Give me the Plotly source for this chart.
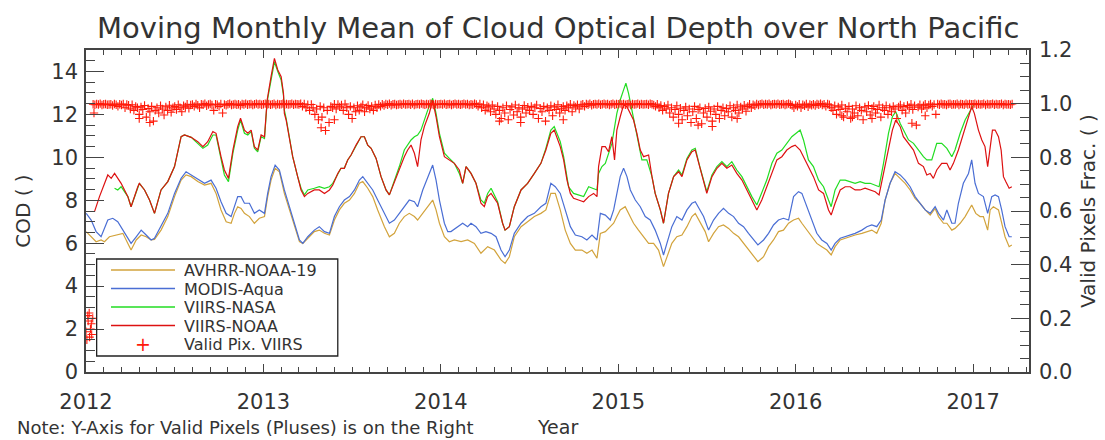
import plotly.graph_objects as go

# ---------------- data (decimal year, COD) ----------------
avhrr_noaa19 = [(2012.001,6.54),(2012.029,6.30),(2012.057,6.07),(2012.085,6.15),(2012.104,6.07),(2012.132,6.30),(2012.179,6.38),(2012.208,6.46),(2012.236,5.99),(2012.254,5.68),(2012.283,6.15),(2012.311,6.38),(2012.339,6.30),(2012.367,6.15),(2012.386,6.18),(2012.423,6.61),(2012.461,7.24),(2012.499,8.17),(2012.536,8.94),(2012.564,9.18),(2012.593,9.10),(2012.630,8.87),(2012.668,8.71),(2012.705,8.79),(2012.733,8.32),(2012.761,7.55),(2012.790,7.00),(2012.818,6.93),(2012.837,7.39),(2012.855,7.70),(2012.874,7.62),(2012.893,7.39),(2012.921,7.24),(2012.949,6.93),(2012.977,7.16),(2013.006,7.24),(2013.024,8.17),(2013.043,8.94),(2013.066,9.49),(2013.090,9.33),(2013.118,8.32),(2013.146,7.55),(2013.175,6.77),(2013.203,6.07),(2013.222,5.99),(2013.250,6.23),(2013.287,6.54),(2013.315,6.61),(2013.344,6.46),(2013.372,6.38),(2013.400,7.08),(2013.428,7.55),(2013.456,7.86),(2013.485,8.01),(2013.513,8.32),(2013.541,8.79),(2013.560,8.87),(2013.588,8.56),(2013.616,8.17),(2013.644,7.55),(2013.682,6.77),(2013.710,6.30),(2013.738,6.46),(2013.766,6.93),(2013.794,7.24),(2013.822,7.39),(2013.851,7.24),(2013.869,7.08),(2013.898,7.39),(2013.926,7.70),(2013.954,8.01),(2013.973,7.55),(2013.992,6.93),(2014.020,6.30),(2014.048,6.07),(2014.076,6.15),(2014.114,6.07),(2014.151,6.15),(2014.189,5.99),(2014.226,5.53),(2014.264,5.84),(2014.302,5.68),(2014.339,5.22),(2014.362,5.06),(2014.386,5.37),(2014.414,6.30),(2014.452,6.77),(2014.489,7.00),(2014.527,7.24),(2014.564,7.39),(2014.592,7.55),(2014.620,8.32),(2014.645,8.32),(2014.673,7.55),(2014.701,6.61),(2014.730,5.99),(2014.758,5.68),(2014.795,5.68),(2014.823,5.53),(2014.852,5.68),(2014.880,5.30),(2014.899,6.46),(2014.927,6.54),(2014.955,6.77),(2014.974,6.93),(2014.992,7.24),(2015.011,7.55),(2015.039,7.70),(2015.058,7.39),(2015.086,6.93),(2015.114,6.61),(2015.143,6.30),(2015.171,5.99),(2015.199,5.99),(2015.227,5.68),(2015.255,4.91),(2015.274,5.37),(2015.302,5.99),(2015.330,6.30),(2015.359,6.38),(2015.387,6.77),(2015.415,7.24),(2015.434,7.39),(2015.462,6.93),(2015.490,6.54),(2015.509,6.07),(2015.537,6.46),(2015.565,6.77),(2015.593,6.85),(2015.622,6.69),(2015.650,6.46),(2015.678,6.30),(2015.706,5.99),(2015.734,5.68),(2015.762,5.37),(2015.787,5.14),(2015.819,5.37),(2015.847,5.84),(2015.875,6.15),(2015.903,6.54),(2015.931,6.61),(2015.960,6.93),(2015.988,7.08),(2016.016,7.16),(2016.035,6.93),(2016.063,6.61),(2016.091,6.30),(2016.119,5.99),(2016.147,5.84),(2016.176,5.68),(2016.200,5.45),(2016.222,5.84),(2016.251,6.15),(2016.279,6.23),(2016.307,6.30),(2016.335,6.38),(2016.373,6.46),(2016.401,6.54),(2016.429,6.61),(2016.457,6.46),(2016.482,6.93),(2016.504,8.01),(2016.532,8.79),(2016.560,9.25),(2016.589,9.02),(2016.617,8.79),(2016.645,8.48),(2016.673,8.09),(2016.701,7.86),(2016.730,7.55),(2016.758,7.31),(2016.786,7.62),(2016.805,7.24),(2016.833,6.93),(2016.852,6.93),(2016.880,6.61),(2016.898,6.69),(2016.927,6.93),(2016.955,7.24),(2016.992,7.78),(2017.015,7.39),(2017.039,7.24),(2017.058,7.24),(2017.082,6.61),(2017.096,7.55),(2017.114,7.70),(2017.143,7.55),(2017.161,6.93),(2017.180,6.30),(2017.203,5.84),(2017.218,5.92)]

modis_aqua = [(2012.001,7.39),(2012.029,7.08),(2012.057,6.54),(2012.085,6.30),(2012.123,7.08),(2012.151,7.16),(2012.179,7.00),(2012.208,6.61),(2012.236,6.23),(2012.254,5.99),(2012.283,6.30),(2012.311,6.61),(2012.339,6.38),(2012.367,6.15),(2012.386,6.23),(2012.423,6.77),(2012.461,7.39),(2012.499,8.32),(2012.536,9.02),(2012.564,9.33),(2012.593,9.18),(2012.630,9.02),(2012.668,8.79),(2012.705,8.94),(2012.733,8.56),(2012.761,7.93),(2012.790,7.39),(2012.818,7.24),(2012.837,7.70),(2012.855,8.17),(2012.874,8.17),(2012.893,7.86),(2012.921,7.86),(2012.949,7.39),(2012.977,7.55),(2013.006,7.39),(2013.024,8.32),(2013.043,9.10),(2013.066,9.64),(2013.090,9.41),(2013.118,8.48),(2013.146,7.70),(2013.175,6.93),(2013.203,6.15),(2013.222,5.99),(2013.250,6.30),(2013.287,6.61),(2013.315,6.77),(2013.344,6.54),(2013.372,6.46),(2013.400,7.24),(2013.428,7.70),(2013.456,8.01),(2013.485,8.17),(2013.513,8.48),(2013.541,8.94),(2013.560,9.10),(2013.588,8.79),(2013.616,8.48),(2013.644,8.01),(2013.682,7.39),(2013.710,6.93),(2013.738,7.08),(2013.766,7.39),(2013.794,7.70),(2013.822,8.01),(2013.851,7.93),(2013.869,7.70),(2013.898,8.48),(2013.926,9.10),(2013.954,9.64),(2013.973,8.94),(2013.992,8.01),(2014.020,6.93),(2014.039,6.54),(2014.057,6.54),(2014.095,6.77),(2014.123,6.93),(2014.151,6.77),(2014.170,6.93),(2014.198,6.77),(2014.226,6.46),(2014.254,6.54),(2014.283,6.46),(2014.311,6.30),(2014.339,5.68),(2014.362,5.37),(2014.386,5.68),(2014.414,6.46),(2014.452,6.93),(2014.489,7.24),(2014.527,7.39),(2014.564,7.70),(2014.592,7.86),(2014.620,8.79),(2014.645,8.63),(2014.673,8.32),(2014.701,7.55),(2014.730,6.77),(2014.758,6.38),(2014.795,6.30),(2014.823,6.15),(2014.852,6.38),(2014.880,6.15),(2014.899,7.39),(2014.927,7.31),(2014.955,7.08),(2014.974,7.55),(2014.992,8.32),(2015.011,9.10),(2015.030,9.49),(2015.049,9.10),(2015.068,8.48),(2015.096,8.01),(2015.124,7.70),(2015.152,7.24),(2015.180,7.08),(2015.208,6.61),(2015.237,5.99),(2015.255,5.45),(2015.274,5.99),(2015.302,6.77),(2015.330,7.24),(2015.359,7.08),(2015.387,7.55),(2015.415,7.86),(2015.434,7.93),(2015.462,7.55),(2015.481,7.24),(2015.509,6.61),(2015.537,7.08),(2015.565,7.39),(2015.593,7.62),(2015.622,7.39),(2015.650,7.24),(2015.678,6.93),(2015.706,6.77),(2015.734,6.46),(2015.762,6.15),(2015.787,5.92),(2015.819,6.15),(2015.847,6.46),(2015.875,6.85),(2015.903,7.08),(2015.931,7.16),(2015.960,7.08),(2015.988,8.17),(2016.016,8.40),(2016.035,8.32),(2016.063,7.70),(2016.091,7.08),(2016.119,6.46),(2016.147,6.15),(2016.176,5.99),(2016.200,5.68),(2016.222,5.99),(2016.251,6.23),(2016.279,6.30),(2016.307,6.38),(2016.335,6.46),(2016.373,6.61),(2016.401,6.77),(2016.429,6.85),(2016.457,6.77),(2016.482,7.08),(2016.504,8.01),(2016.532,8.79),(2016.560,9.33),(2016.589,9.18),(2016.617,8.94),(2016.645,8.63),(2016.673,8.17),(2016.701,7.86),(2016.730,7.55),(2016.758,7.39),(2016.786,7.70),(2016.805,7.39),(2016.833,7.08),(2016.852,7.55),(2016.880,6.93),(2016.898,6.93),(2016.917,7.86),(2016.945,8.79),(2016.974,9.25),(2016.992,9.88),(2017.011,8.79),(2017.030,8.32),(2017.058,8.17),(2017.082,7.39),(2017.105,8.17),(2017.124,8.25),(2017.143,8.17),(2017.161,7.55),(2017.180,6.77),(2017.203,6.30),(2017.218,6.30)]

viirs_nasa = [(2012.161,8.56),(2012.179,8.48),(2012.198,8.63),(2012.236,8.17),(2012.254,7.70),(2012.292,8.63),(2012.301,8.79),(2012.330,8.48),(2012.358,8.01),(2012.386,7.39),(2012.423,8.48),(2012.461,8.87),(2012.499,9.57),(2012.536,10.96),(2012.555,11.04),(2012.593,10.93),(2012.630,10.65),(2012.659,10.42),(2012.686,10.57),(2012.715,11.04),(2012.733,11.04),(2012.761,9.88),(2012.780,9.18),(2012.803,8.87),(2012.828,10.19),(2012.855,11.27),(2012.871,11.74),(2012.893,11.12),(2012.912,11.04),(2012.931,11.20),(2012.949,10.42),(2012.968,10.26),(2012.987,10.96),(2013.006,10.88),(2013.021,12.59),(2013.043,13.60),(2013.062,14.45),(2013.081,14.00),(2013.100,13.60),(2013.113,12.90),(2013.118,12.20),(2013.128,11.82),(2013.141,11.12),(2013.165,10.03),(2013.193,9.10),(2013.212,8.56),(2013.231,8.25),(2013.250,8.48),(2013.287,8.56),(2013.315,8.63),(2013.344,8.56),(2013.372,8.63),(2013.391,8.79),(2013.419,9.25),(2013.437,9.49),(2013.456,9.49),(2013.475,9.88),(2013.494,10.11),(2013.522,10.57),(2013.550,10.96),(2013.569,10.96),(2013.588,10.57),(2013.607,10.42),(2013.635,9.95),(2013.663,9.10),(2013.691,8.48),(2013.710,8.25),(2013.738,8.87),(2013.766,9.57),(2013.794,10.34),(2013.813,10.57),(2013.832,10.81),(2013.851,10.96),(2013.869,11.04),(2013.888,11.27),(2013.907,11.74),(2013.926,12.20),(2013.954,12.75),(2013.973,12.05),(2013.992,11.12),(2014.020,10.19),(2014.048,9.95),(2014.076,9.72),(2014.104,9.25),(2014.123,8.79),(2014.142,9.57),(2014.170,9.25),(2014.198,8.79),(2014.226,8.01),(2014.245,7.86),(2014.264,8.32),(2014.283,8.56),(2014.320,7.93),(2014.348,6.93),(2014.362,6.61),(2014.386,6.77),(2014.414,7.70),(2014.452,8.48),(2014.489,8.79),(2014.527,9.25),(2014.564,9.72),(2014.592,10.42),(2014.620,11.27),(2014.639,11.43),(2014.673,10.73),(2014.692,10.03),(2014.720,8.63),(2014.748,8.32),(2014.776,8.25),(2014.805,8.17),(2014.833,8.63),(2014.861,8.56),(2014.880,8.48),(2014.889,9.25),(2014.908,9.57),(2014.927,9.72),(2014.945,10.19),(2014.964,10.65),(2014.992,12.05),(2015.011,12.67),(2015.030,13.14),(2015.043,13.45),(2015.058,12.98),(2015.077,12.20),(2015.096,11.43),(2015.114,10.81),(2015.133,9.88),(2015.161,9.88),(2015.190,9.10),(2015.208,8.32),(2015.237,7.55),(2015.255,6.93),(2015.283,8.32),(2015.312,9.10),(2015.340,9.41),(2015.359,9.18),(2015.387,9.95),(2015.415,10.34),(2015.434,10.42),(2015.462,9.49),(2015.481,8.87),(2015.499,8.40),(2015.528,9.18),(2015.556,9.57),(2015.584,9.80),(2015.612,9.57),(2015.640,9.80),(2015.668,9.41),(2015.697,9.10),(2015.725,8.63),(2015.753,8.17),(2015.781,7.78),(2015.809,8.32),(2015.837,8.94),(2015.866,9.72),(2015.894,10.19),(2015.922,10.34),(2015.950,10.65),(2015.978,10.96),(2016.025,11.27),(2016.044,10.81),(2016.072,9.88),(2016.100,9.57),(2016.129,8.94),(2016.157,8.63),(2016.185,8.01),(2016.200,7.70),(2016.222,8.48),(2016.251,8.94),(2016.279,8.94),(2016.307,8.87),(2016.335,8.79),(2016.363,8.87),(2016.391,8.79),(2016.420,8.79),(2016.448,8.71),(2016.470,8.63),(2016.495,9.72),(2016.523,11.12),(2016.545,11.89),(2016.564,12.13),(2016.589,11.58),(2016.607,11.27),(2016.636,10.81),(2016.664,10.65),(2016.692,10.34),(2016.720,10.03),(2016.739,9.88),(2016.767,9.88),(2016.795,10.65),(2016.823,10.65),(2016.852,10.42),(2016.880,10.03),(2016.898,10.34),(2016.927,11.12),(2016.955,11.74),(2016.983,12.20),(2017.002,12.44)]

viirs_noaa = [(2012.048,7.47),(2012.076,8.17),(2012.123,9.18),(2012.142,9.02),(2012.161,9.25),(2012.179,9.02),(2012.198,8.79),(2012.236,8.17),(2012.254,7.70),(2012.292,8.63),(2012.301,8.79),(2012.330,8.48),(2012.358,8.01),(2012.386,7.39),(2012.423,8.48),(2012.461,8.87),(2012.499,9.57),(2012.536,10.96),(2012.555,11.04),(2012.593,10.93),(2012.630,10.73),(2012.659,10.50),(2012.686,10.73),(2012.715,11.20),(2012.733,11.12),(2012.761,10.03),(2012.780,9.41),(2012.803,9.02),(2012.828,10.34),(2012.855,11.43),(2012.871,11.82),(2012.893,11.27),(2012.912,11.12),(2012.931,11.27),(2012.949,10.50),(2012.968,10.34),(2012.987,11.04),(2013.006,10.96),(2013.021,12.67),(2013.043,13.76),(2013.062,14.61),(2013.081,14.07),(2013.100,13.76),(2013.113,12.98),(2013.118,12.05),(2013.128,11.74),(2013.141,11.12),(2013.165,10.03),(2013.193,9.10),(2013.212,8.48),(2013.231,8.17),(2013.250,8.32),(2013.287,8.48),(2013.315,8.48),(2013.344,8.32),(2013.372,8.48),(2013.391,8.71),(2013.419,9.25),(2013.437,9.49),(2013.456,9.49),(2013.475,9.88),(2013.494,10.11),(2013.522,10.57),(2013.550,10.96),(2013.569,10.96),(2013.588,10.57),(2013.607,10.42),(2013.635,9.95),(2013.663,9.10),(2013.691,8.48),(2013.710,8.25),(2013.738,8.87),(2013.766,9.41),(2013.794,10.03),(2013.813,10.34),(2013.832,10.57),(2013.851,10.19),(2013.869,9.57),(2013.888,10.81),(2013.907,11.43),(2013.935,12.05),(2013.954,12.67),(2013.973,11.89),(2013.992,10.96),(2014.020,10.03),(2014.048,9.88),(2014.076,9.72),(2014.104,9.41),(2014.123,8.79),(2014.142,9.57),(2014.170,9.25),(2014.198,8.79),(2014.226,7.86),(2014.245,7.70),(2014.264,8.17),(2014.283,8.32),(2014.320,7.86),(2014.348,6.93),(2014.362,6.61),(2014.386,6.77),(2014.414,7.70),(2014.452,8.48),(2014.489,8.79),(2014.527,9.25),(2014.564,9.72),(2014.592,10.34),(2014.620,11.12),(2014.639,11.27),(2014.673,10.50),(2014.692,9.88),(2014.711,8.94),(2014.730,8.32),(2014.748,8.09),(2014.776,8.01),(2014.805,7.93),(2014.833,8.17),(2014.861,8.32),(2014.880,8.17),(2014.889,9.57),(2014.908,10.50),(2014.927,10.50),(2014.945,10.26),(2014.964,10.96),(2014.979,9.88),(2014.992,11.27),(2015.011,11.89),(2015.030,12.44),(2015.049,12.36),(2015.068,12.05),(2015.086,11.74),(2015.105,11.12),(2015.124,10.34),(2015.143,10.03),(2015.171,10.11),(2015.190,9.10),(2015.208,8.32),(2015.237,7.55),(2015.255,6.93),(2015.283,8.32),(2015.312,9.10),(2015.340,9.33),(2015.359,9.10),(2015.387,9.88),(2015.415,10.26),(2015.434,10.34),(2015.462,9.41),(2015.481,8.79),(2015.499,8.32),(2015.528,9.10),(2015.556,9.49),(2015.584,9.72),(2015.612,9.49),(2015.640,9.64),(2015.668,9.25),(2015.697,8.94),(2015.725,8.48),(2015.753,8.01),(2015.781,7.55),(2015.809,8.01),(2015.837,8.63),(2015.866,9.33),(2015.894,9.88),(2015.922,10.03),(2015.950,10.34),(2015.978,10.50),(2015.997,10.57),(2016.025,10.34),(2016.044,10.03),(2016.072,9.57),(2016.100,9.10),(2016.129,8.48),(2016.157,8.32),(2016.185,7.55),(2016.200,7.31),(2016.222,7.86),(2016.251,8.48),(2016.279,8.63),(2016.307,8.63),(2016.335,8.48),(2016.363,8.48),(2016.391,8.56),(2016.420,8.48),(2016.448,8.40),(2016.470,8.25),(2016.495,9.25),(2016.523,10.50),(2016.545,11.27),(2016.564,11.74),(2016.589,11.43),(2016.607,10.96),(2016.636,10.65),(2016.664,10.34),(2016.692,9.72),(2016.720,9.57),(2016.739,9.18),(2016.758,9.25),(2016.776,9.02),(2016.795,9.41),(2016.823,9.72),(2016.852,9.72),(2016.870,9.41),(2016.889,9.72),(2016.917,10.34),(2016.945,11.12),(2016.974,11.89),(2016.992,12.36),(2017.007,12.05),(2017.030,11.27),(2017.049,10.81),(2017.067,10.50),(2017.082,9.57),(2017.096,10.34),(2017.109,11.27),(2017.124,11.27),(2017.143,10.96),(2017.158,10.34),(2017.171,9.10),(2017.184,8.87),(2017.203,8.56),(2017.218,8.63)]

# Valid pixel fraction of VIIRS (thousandths), one value every 0.01 year starting at 2012.00
pix_start, pix_step = 2012.0, 0.01
valid_pix_2012 = [150,210,130,180,998,996,999,997,1000,995, 998,999,996,997,998,993,999,996,990,998,
                  995,999,985,997,994,980,996,975,990,985, 960,988,978,993,950,982,970,990,935,975,
                  985,965,992,980,958,988,975,994,968,985, 990,978,996,985,970,992,988,998,983,995,
                  997,990,999,994,985,998,996,1000,992,997, 999,995,975,998,996,990,999,965,997,994,
                  998,1000,995,997,999,996,998,993,999,997, 1000,996,998,999,995,998,1000,997,999,996]
valid_pix_2013 = [998,1000,997,999,996,998,1000,995,999,997, 998,1000,996,999,997,998,1000,996,999,998,
                  997,1000,990,999,985,996,975,997,985,960, 980,940,990,950,985,900,975,930,990,985,
                  998,980,997,988,995,975,999,985,960,990, 945,985,970,992,975,988,996,970,985,993,
                  980,990,975,995,985,997,990,998,993,999, 996,1000,994,998,999,995,997,999,996,1000,
                  997,998,999,996,1000,995,998,999,997,1000, 998,996,999,997,1000,998,995,999,997,998]
valid_pix_2014 = [999,997,1000,996,998,999,995,998,1000,997, 999,996,998,1000,997,999,995,998,996,1000,
                  997,990,999,985,996,975,992,988,970,995, 980,960,990,975,945,985,965,992,940,978,
                  988,958,995,970,985,950,980,993,965,987, 975,990,960,985,995,945,982,970,990,935,
                  985,975,992,955,988,978,996,965,983,990, 975,992,985,998,970,993,988,996,980,995,
                  998,990,999,996,1000,994,998,999,997,1000, 996,998,1000,997,999,995,998,1000,996,999]
valid_pix_2015 = [998,1000,997,999,996,998,1000,995,999,997, 998,1000,996,999,997,998,999,996,1000,998,
                  995,990,998,985,993,975,990,980,995,965, 985,950,978,992,960,983,940,975,988,955,
                  980,930,970,990,945,978,985,925,965,982, 950,988,972,935,980,960,990,945,975,985,
                  955,982,970,992,950,985,975,995,965,988, 980,994,972,990,998,985,996,992,999,995,
                  998,1000,996,999,997,1000,995,998,999,997, 1000,996,998,999,995,998,1000,997,993,985]
valid_pix_2016 = [995,990,998,985,996,992,999,988,997,994, 998,993,999,996,1000,995,998,990,999,996,
                  985,975,992,960,988,978,995,950,983,970, 990,945,980,965,992,955,985,975,940,988,
                  970,993,958,982,990,965,978,995,950,985, 975,992,960,985,970,990,980,945,988,995,
                  975,990,965,993,985,998,978,992,920,987, 996,980,992,998,985,995,999,990,997,960,
                  999,996,1000,997,998,995,999,1000,996,998, 997,1000,995,999,998,996,1000,997,999,998]
valid_pix_2017 = [998,1000,996,999,997,998,1000,995,999,997, 998,1000,996,999,997,998,1000,995,999,997,
                  998,996,999]
# additional pluses seen off the main band (decimal year, fraction)
valid_pix_extra = [(2012.005,0.12),(2012.012,0.19),(2012.018,0.22),(2012.025,0.16),(2012.032,0.14),
                   (2012.038,0.20),(2012.045,0.965),(2012.300,0.945),(2012.360,0.930),(2013.325,0.910),
                   (2013.400,0.940),(2014.330,0.935),(2014.450,0.930),(2014.690,0.940),(2015.340,0.927),
                   (2015.450,0.920),(2015.530,0.915),(2015.670,0.945),(2016.260,0.955),(2016.320,0.950),
                   (2016.430,0.945),(2016.655,0.927),(2016.730,0.955)]

series_names = ["AVHRR-NOAA-19", "MODIS-Aqua", "VIIRS-NASA", "VIIRS-NOAA"]
plus_name = "Valid Pix. VIIRS"
series_colors = ["#d2a33c", "#4a6ed4", "#22dd22", "#dd1111"]
plus_color = "#ff1a0a"
year_ticks = [2012, 2013, 2014, 2015, 2016, 2017]
cod_ticks = [0, 2, 4, 6, 8, 10, 12, 14]
frac_ticks = [0.0, 0.2, 0.4, 0.6, 0.8, 1.0, 1.2]

# ---------------- figure ----------------
fig = go.Figure()
for pts, name, col in zip([avhrr_noaa19, modis_aqua, viirs_nasa, viirs_noaa], series_names, series_colors):
    fig.add_trace(go.Scatter(x=[p[0] for p in pts], y=[p[1] for p in pts], mode="lines",
                             name=name, line=dict(color=col, width=1.2), yaxis="y"))

pix_all = valid_pix_2012 + valid_pix_2013 + valid_pix_2014 + valid_pix_2015 + valid_pix_2016 + valid_pix_2017
pix_t = [pix_start + pix_step * i for i in range(len(pix_all))] + [p[0] for p in valid_pix_extra]
pix_v = [v / 1000.0 for v in pix_all] + [p[1] for p in valid_pix_extra]
fig.add_trace(go.Scatter(x=pix_t, y=pix_v, mode="markers", name=plus_name, yaxis="y2",
                         marker=dict(symbol="cross-thin", size=6, color=plus_color,
                                     line=dict(color=plus_color, width=1.1))))

axis_col = "#444444"
txt_col = "#333333"
fig.update_layout(
    width=1105, height=440,
    margin=dict(l=86, r=76, t=50, b=68),
    paper_bgcolor="white", plot_bgcolor="white",
    showlegend=False,
    font=dict(family="DejaVu Sans", color=txt_col),
    xaxis=dict(range=[2012, 2017.315], tickmode="array", tickvals=year_ticks,
               ticktext=[str(y) for y in year_ticks], ticks="inside", ticklen=8, tickwidth=1,
               tickcolor=axis_col, showline=True, linecolor=axis_col, linewidth=1.5, mirror="ticks",
               showgrid=False, zeroline=False, tickfont=dict(size=21, color=txt_col),
               ticklabelstandoff=10,
               minor=dict(tickmode="linear", tick0=2012, dtick=0.1, ticks="inside", ticklen=5,
                          tickcolor=axis_col, showgrid=False)),
    yaxis=dict(range=[0, 15], tickmode="array", tickvals=cod_ticks, ticks="inside", ticklen=18,
               tickcolor=axis_col, showline=True, linecolor=axis_col, linewidth=1.5,
               showgrid=False, zeroline=False, tickfont=dict(size=21, color=txt_col),
               ticklabelstandoff=2,
               minor=dict(tickmode="linear", tick0=0, dtick=0.5, ticks="inside", ticklen=9,
                          tickcolor=axis_col, showgrid=False)),
    yaxis2=dict(range=[0, 1.2], overlaying="y", side="right", tickmode="array", tickvals=frac_ticks,
                ticktext=["%.1f" % v for v in frac_ticks], ticks="inside", ticklen=18,
                tickcolor=axis_col, showline=True, linecolor=axis_col, linewidth=1.5,
                showgrid=False, zeroline=False, tickfont=dict(size=21, color=txt_col),
                ticklabelstandoff=4,
                minor=dict(tickmode="linear", tick0=0, dtick=0.05, ticks="inside", ticklen=9,
                           tickcolor=axis_col, showgrid=False)),
)

ann = [
    dict(text="Moving Monthly Mean of Cloud Optical Depth over North Pacific", x=0.5, y=1.068,
         font=dict(size=29, color=txt_col)),
    dict(text="COD ( )", x=-0.067, y=0.5, textangle=-90, font=dict(size=20, color=txt_col)),
    dict(text="Valid Pixels Frac. ( )", x=1.0626, y=0.5, textangle=-90, font=dict(size=20, color=txt_col)),
    dict(text="Year", x=0.4995, y=-0.171, font=dict(size=19, color=txt_col)),
    dict(text="Note: Y-Axis for Valid Pixels (Pluses) is on the Right", x=-0.0753, y=-0.171,
         xanchor="left", font=dict(size=18, color=txt_col)),
]
# hand-drawn legend (IDL style)
leg_rows = [0.3168, 0.2593, 0.2019, 0.1444, 0.0870]
shapes = [dict(type="rect", xref="paper", yref="paper", x0=0.0113, x1=0.267, y0=0.0497, y1=0.351,
               line=dict(color="#222222", width=1.3), layer="above")]
for i, (name, col) in enumerate(zip(series_names, series_colors)):
    shapes.append(dict(type="line", xref="paper", yref="paper", x0=0.0265, x1=0.0944,
                       y0=leg_rows[i], y1=leg_rows[i], line=dict(color=col, width=1.3)))
    ann.append(dict(text=name, x=0.1029, y=leg_rows[i], xanchor="left", height=16, borderpad=0,
                    font=dict(size=16, color=txt_col)))
ann.append(dict(text="+", x=0.0608, y=leg_rows[4], height=16, borderpad=0,
                font=dict(size=19, color=plus_color)))
ann.append(dict(text=plus_name, x=0.1029, y=leg_rows[4], xanchor="left", height=16, borderpad=0,
                font=dict(size=16, color=txt_col)))

for a in ann:
    a.setdefault("xanchor", "center")
    a.update(xref="paper", yref="paper", yanchor="middle", showarrow=False)
fig.update_layout(annotations=ann, shapes=shapes)

fig.write_html("out.html", config={"displayModeBar": False},
               post_script="document.body.style.margin='0';document.body.style.overflow='hidden';")
